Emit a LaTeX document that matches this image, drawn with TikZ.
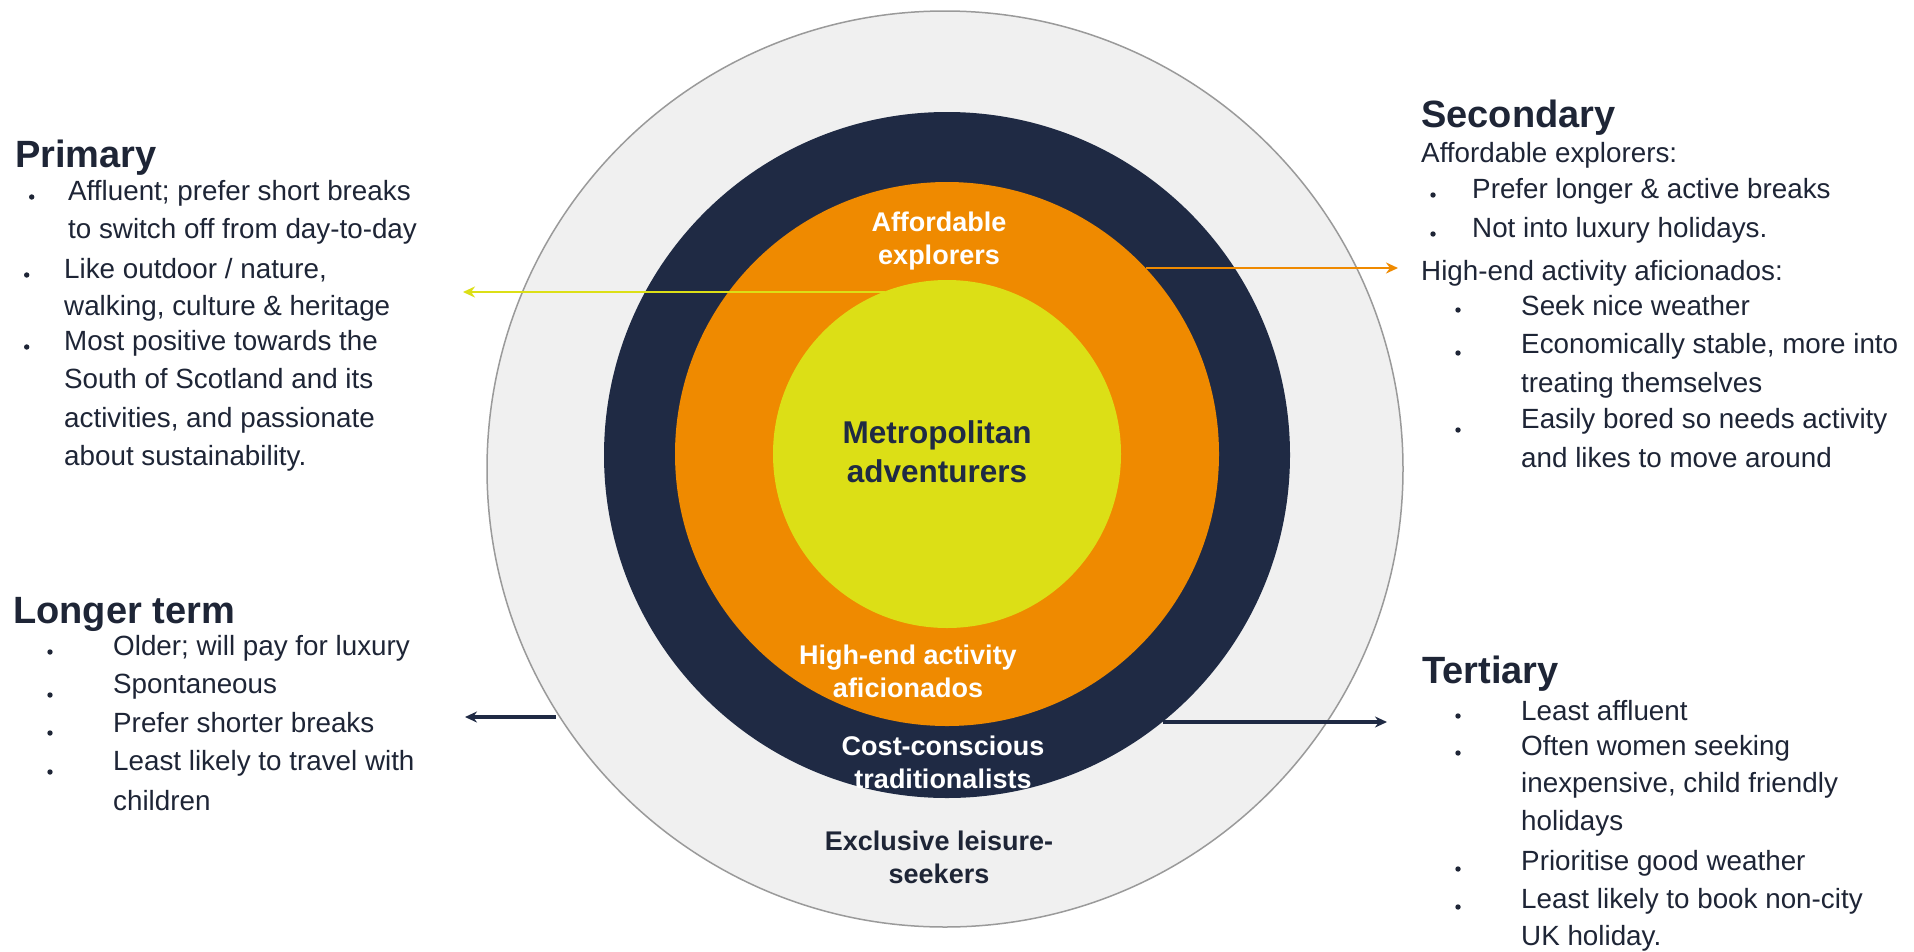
\documentclass[tikz,border=0pt]{standalone}
\usepackage{fontspec}
\setmainfont{Liberation Sans}
\usetikzlibrary{arrows.meta}
\definecolor{navy}{HTML}{1F2A44}
\definecolor{orng}{HTML}{EF8A00}
\definecolor{yell}{HTML}{DCDF16}
\definecolor{lgrey}{HTML}{F0F0F0}
\definecolor{edgegrey}{HTML}{9A9A9A}
\definecolor{txtc}{HTML}{1E2536}
\begin{document}
\begin{tikzpicture}[x=1pt,y=-1pt,
  hd/.style={anchor=base west, font=\fontsize{38}{44}\selectfont\bfseries, text=txtc, inner sep=0pt},
  tx/.style={anchor=base west, font=\fontsize{27.8}{34}\selectfont, text=txtc, inner sep=0pt},
  ring/.style={circle, inner sep=0pt, draw=none},
  lbl/.style={align=center, font=\fontsize{27}{33}\selectfont\bfseries, inner sep=0pt},
  conn/.style={line width=2.8pt, -{Stealth[length=12pt,width=11pt]}},
  bul/.style={fill=txtc}]
\useasboundingbox (0,0) rectangle (1914,951);
\fill[white] (0,0) rectangle (1914,951);

% rings
\node[ring, fill=lgrey, draw=edgegrey, line width=1.5pt, minimum size=916pt] (outer) at (945,469) {};
\node[ring, fill=navy, minimum size=686pt] (navyring) at (947,455) {};
\node[ring, fill=orng, minimum size=544pt] (orangering) at (947,454) {};
\node[ring, fill=yell, minimum size=348pt] (core) at (947,454) {};

% ring labels
\node[lbl, text=white] (lae) at (939,241) {Affordable\\explorers};
\node[lbl, text=navy, font=\fontsize{31.5}{39}\selectfont\bfseries] (lma) at (937,452) {Metropolitan\\adventurers};
\node[lbl, text=white] (lha) at (908,671) {High-end activity\\aficionados};
\node[lbl, text=white] (lcc) at (943,762) {Cost-conscious\\traditionalists};
\node[lbl, text=txtc] (lel) at (939,857) {Exclusive leisure-\\seekers};

% arrow ends
\coordinate (yend) at (463,292);
\coordinate (oend) at (1398,268);
\coordinate (lend) at (465,717);
\coordinate (tend) at (1387,722);

\draw[conn, yell] (core.111.4 |- yend) -- (yend);
\draw[conn, orng] (orangering.43.14 |- oend) -- (oend);
\draw[conn, navy, line width=3.3pt] (outer.212.8 |- lend) -- (lend);
\draw[conn, navy, line width=3.3pt] (navyring.-51.2 |- tend) -- (tend);

% Primary
\node[hd] (prim) at (15,167) {Primary};
\node[tx] (p1a) at (68,200) {Affluent; prefer short breaks};
\node[tx] (p1b) at (68,238) {to switch off from day-to-day};
\node[tx] (p2a) at (64,278) {Like outdoor / nature,};
\node[tx] (p2b) at (64,315) {walking, culture \& heritage};
\node[tx] (p3a) at (64,350) {Most positive towards the};
\node[tx] (p3b) at (64,388) {South of Scotland and its};
\node[tx] (p3c) at (64,427) {activities, and passionate};
\node[tx] (p3d) at (64,465) {about sustainability.};
\fill[bul] (31.7,197) circle (2.7);
\fill[bul] (26.7,275) circle (2.7);
\fill[bul] (26.7,347) circle (2.7);

% Secondary
\node[hd] (sec) at (1421,127) {Secondary};
\node[tx] (s0) at (1421,162) {Affordable explorers:};
\node[tx] (s1) at (1472,198) {Prefer longer \& active breaks};
\node[tx] (s2) at (1472,237) {Not into luxury holidays.};
\node[tx] (s3) at (1421,280) {High-end activity aficionados:};
\node[tx] (s4) at (1521,315) {Seek nice weather};
\node[tx] (s5a) at (1521,353) {Economically stable, more into};
\node[tx] (s5b) at (1521,392) {treating themselves};
\node[tx] (s6a) at (1521,428) {Easily bored so needs activity};
\node[tx] (s6b) at (1521,467) {and likes to move around};
\fill[bul] (1433,195) circle (2.7);
\fill[bul] (1433,234) circle (2.7);
\fill[bul] (1458,310) circle (2.7);
\fill[bul] (1458,353) circle (2.7);
\fill[bul] (1458,430) circle (2.7);

% Longer term
\node[hd] (lt) at (13,623) {Longer term};
\node[tx] (l1) at (113,655) {Older; will pay for luxury};
\node[tx] (l2) at (113,693) {Spontaneous};
\node[tx] (l3) at (113,732) {Prefer shorter breaks};
\node[tx] (l4a) at (113,770) {Least likely to travel with};
\node[tx] (l4b) at (113,810) {children};
\fill[bul] (50,652) circle (2.7);
\fill[bul] (50,695) circle (2.7);
\fill[bul] (50,733) circle (2.7);
\fill[bul] (50,772) circle (2.7);

% Tertiary
\node[hd] (ter) at (1422,683) {Tertiary};
\node[tx] (t1) at (1521,720) {Least affluent};
\node[tx] (t2a) at (1521,755) {Often women seeking};
\node[tx] (t2b) at (1521,792) {inexpensive, child friendly};
\node[tx] (t2c) at (1521,830) {holidays};
\node[tx] (t3) at (1521,870) {Prioritise good weather};
\node[tx] (t4a) at (1521,908) {Least likely to book non-city};
\node[tx] (t4b) at (1521,945) {UK holiday.};
\fill[bul] (1458,716) circle (2.7);
\fill[bul] (1458,753) circle (2.7);
\fill[bul] (1458,869) circle (2.7);
\fill[bul] (1458,907) circle (2.7);
\end{tikzpicture}
\end{document}
